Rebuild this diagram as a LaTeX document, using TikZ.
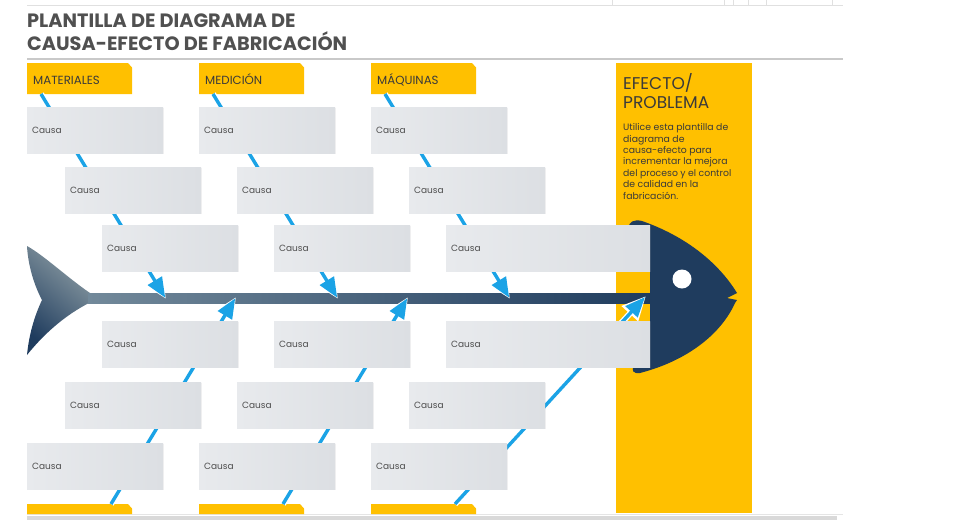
\documentclass[tikz,border=0pt]{standalone}
\usepackage{fontspec}
\setmainfont{Poppins}
\usetikzlibrary{arrows.meta,shadows}
\definecolor{tabyellow}{HTML}{FFC000}
\definecolor{cblue}{HTML}{1BA3E6}
\definecolor{navy}{HTML}{1F3C5E}
\definecolor{spineL}{HTML}{72899A}
\definecolor{tailL}{HTML}{8D9DA4}
\definecolor{boxL}{HTML}{E8EAED}
\definecolor{boxR}{HTML}{DCDFE3}
\definecolor{titlegray}{HTML}{505050}
\definecolor{txt}{HTML}{3A3A3A}
\definecolor{rulegray}{HTML}{C9C9C9}
\begin{document}
\begin{tikzpicture}[x=1pt,y=-1pt,
  cbox/.style={rectangle, left color=boxL, right color=boxR, minimum height=46pt,
    inner xsep=5pt, inner ysep=0pt, text width=#1, align=left, anchor=north west,
    font=\fontsize{9}{10}\selectfont, text=txt!90,
    drop shadow={opacity=0.10, shadow xshift=1pt, shadow yshift=-1pt}},
  cbox/.default=126pt,
  tablabel/.style={anchor=base west, font=\fontsize{11.8}{13}\selectfont, text=txt, inner sep=0pt},
  conn/.style={cblue, line width=3.4pt, shorten >=1.5pt, -{Triangle[length=20pt,width=16pt]}},
  connhalo/.style={white, line width=6pt, -{Triangle[length=24pt,width=21pt]}},
  titletext/.style={anchor=base west, inner sep=0pt, font=\bfseries\fontsize{19.3}{22}\selectfont, text=titlegray},
  efftext/.style={anchor=base west, inner sep=0pt, font=\fontsize{17}{19}\selectfont, text=txt},
]
\useasboundingbox (0,0) rectangle (960,520);
\fill[white] (0,0) rectangle (960,520);

% faint top strip
\draw[black!12, line width=0.8pt] (27,5) -- (843,5);
\foreach \xx in {612,724,733,748,766,832} \draw[black!12, line width=0.6pt] (\xx,0) -- (\xx,5);

% title
\node[titletext] (title1) at (27,27) {PLANTILLA DE DIAGRAMA DE};
\node[titletext] (title2) at (27,50) {CAUSA-EFECTO DE FABRICACIÓN};
\draw[rulegray, line width=2pt] (27,59) -- (843,59);

% effect panel
\fill[tabyellow] (616,63) rectangle (752,513);
\node[efftext] (eff1) at (623,89) {EFECTO/};
\node[efftext] (eff2) at (623,108.5) {PROBLEMA};
\node[anchor=north west, inner sep=0pt, align=left, font=\fontsize{9.3}{11.4}\selectfont, text=txt] (effbody) at (623,123.5)
  {Utilice esta plantilla de\\diagrama de\\causa-efecto para\\incrementar la mejora\\del proceso y el control\\de calidad en la\\fabricación.};

% bottom bar
\draw[black!10, line width=0.6pt] (27,514.5) -- (843,514.5);
\fill[black!15] (27,516) rectangle (837,520);

% fish tail
\shade[top color=tailL, bottom color=navy, shading angle=-40]
  (27,246) .. controls (45,256) and (70,280) .. (93,295) -- (93,301)
  .. controls (70,312) and (47,330) .. (27,355)
  .. controls (29,335) and (34,317) .. (42,300)
  .. controls (34,285) and (28,265) .. (27,246) -- cycle;
% spine
\shade[left color=spineL, right color=navy] (88,293.5) rectangle (652,303);
% fish head
\fill[navy] (650,300) -- (650,268) -- (629,228)
  .. controls (628,222) and (634,219) .. (642,221)
  .. controls (685,236) and (718,262) .. (737,293)
  -- (727,298) -- (737,300) -- (735,303)
  .. controls (722,332) and (690,360) .. (640,373)
  .. controls (633,374) and (631,370) .. (634,366)
  -- (650,340) -- cycle;
\fill[white] (682,279) circle (9.5);

% tabs
\foreach \tx in {27,199,371}{
  \fill[tabyellow] (\tx,94) -- (\tx,63) -- ({\tx+101},63) -- ({\tx+105},67.5) -- ({\tx+105},94) -- cycle;
  \fill[tabyellow] (\tx,514) -- (\tx,504) -- ({\tx+101},504) -- ({\tx+105},508.5) -- ({\tx+105},514) -- cycle;
}
\node[tablabel] (tabM) at (33,84) {MATERIALES};
\node[tablabel] (tabD) at (205,84) {MEDICIÓN};
\node[tablabel] (tabQ) at (377,84) {MÁQUINAS};

% connector ends
\coordinate (t1) at (41,94);   \coordinate (h1) at (166,299);
\coordinate (t2) at (213,94);  \coordinate (h2) at (338,299);
\coordinate (t3) at (385,94);  \coordinate (h3) at (510,299);
\coordinate (b1) at (111,504); \coordinate (k1) at (236,297);
\coordinate (b2) at (283,504); \coordinate (k2) at (408,297);
\coordinate (b3) at (455,504); \coordinate (k3) at (646,296);

\foreach \s/\e in {t1/h1,t2/h2,t3/h3,b1/k1,b2/k2,b3/k3}{
  \draw[connhalo] (\s) -- (\e);
}
\foreach \s/\e in {t1/h1,t2/h2,t3/h3,b1/k1,b2/k2,b3/k3}{
  \draw[conn] (\s) -- (\e);
}

% cause boxes
\node[cbox] (c11) at (27,107) {Causa};
\node[cbox] (c12) at (199,107) {Causa};
\node[cbox] (c13) at (371,107) {Causa};
\node[cbox] (c21) at (65,167) {Causa};
\node[cbox] (c22) at (237,167) {Causa};
\node[cbox] (c23) at (409,167) {Causa};
\node[cbox] (c31) at (102,225) {Causa};
\node[cbox] (c32) at (274,225) {Causa};
\node[cbox=194pt] (c33) at (446,225) {Causa};
\node[cbox] (c41) at (102,321) {Causa};
\node[cbox] (c42) at (274,321) {Causa};
\node[cbox=194pt] (c43) at (446,321) {Causa};
\node[cbox] (c51) at (65,382) {Causa};
\node[cbox] (c52) at (237,382) {Causa};
\node[cbox] (c53) at (409,382) {Causa};
\node[cbox] (c61) at (27,443) {Causa};
\node[cbox] (c62) at (199,443) {Causa};
\node[cbox] (c63) at (371,443) {Causa};
\end{tikzpicture}
\end{document}
